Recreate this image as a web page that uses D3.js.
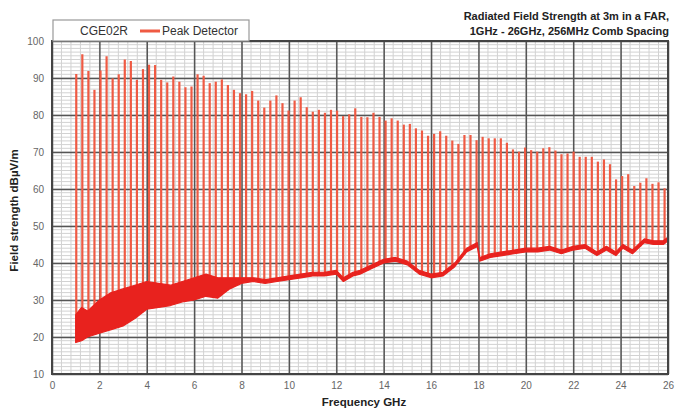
<!DOCTYPE html>
<html>
<head>
<meta charset="utf-8">
<script src="https://cdn.jsdelivr.net/npm/d3@7"></script>
<style>
body { margin: 0; background: #fff; }
svg { display: block; font-family: "Liberation Sans", Arial, sans-serif; }
</style>
</head>
<body>
<script>
// comb lines every 256 MHz, first one at 4 x 256 MHz
const combStart = 1.024
const combStep = 0.256

// peak level of each comb line, dBuV/m
const peakLevels = [
  91.1, 96.4, 91.9, 86.8, 92, 95.9, 89.9, 91, 95, 94.6, 89.5, 92.4, 93.6, 93.5, 89.5, 88.8,
  90.4, 89, 87.5, 87.7, 91, 90.6, 88.6, 89, 89.6, 88.1, 86.8, 85.9, 85.6, 86.5, 83.9,
  82, 83.9, 85.3, 83.2, 81.2, 83.9, 84.8, 82.1, 80.9, 81.4, 80.6, 81.4, 81.2, 79.7, 80.2,
  81.8, 79.5, 79.4, 80.6, 79.5, 78.5, 79.1, 78.5,
  77.4, 77.6, 76.4, 75.8, 74.4, 74.9, 75.6, 74.4, 73.1, 72.2, 74.6, 74.6, 73.2, 74.1,
  73.7, 73.7, 73.7, 72.5, 70.7, 70.1, 71.2, 70.5, 70.1,
  71, 71.3, 70.4, 69.4, 69.6, 70.1, 68.7, 68.7, 68.7, 67.4, 68, 66.7, 62.6, 63.5, 64,
  60.8, 61.7, 62.9, 61.4, 61.8, 60.2
]

// noise floor band between the comb lines (bottom and top edge)
const floorFreqs = [1.0, 1.25, 1.5, 2, 2.5, 3, 3.5, 4, 4.5, 5, 5.5, 6, 6.5, 7, 7.5, 8, 8.5, 9,
  9.5, 10, 10.5, 11, 11.5, 12, 12.3, 12.7, 13, 13.5, 14, 14.5, 15, 15.5, 16, 16.5, 17, 17.5,
  17.95, 18.05, 18.5, 19, 19.5, 20, 20.5, 21, 21.5, 22, 22.5, 23, 23.4, 23.8, 24.1, 24.5, 25,
  25.4, 25.8, 26]
const floorLow = [18.5, 19, 20, 21, 22, 23, 25, 27.5, 28, 28.5, 29.5, 30, 31, 30.5, 33, 34.5,
  35, 34.5, 35, 35.5, 36, 36.5, 36.5, 37, 35, 36.5, 37, 38.5, 40, 40.5, 39.5, 37, 36, 36.5,
  39, 43, 44.5, 40.5, 41.5, 42, 42.5, 43, 43, 43.5, 42.5, 43.5, 44, 42, 43.5, 42, 44, 42.5,
  45.5, 45, 45, 46]
const floorHigh = [26, 28, 27, 30, 32, 33, 34, 35, 34.5, 34, 35, 36, 37, 36, 36, 36,
  36, 35.5, 36, 36.5, 37, 37.5, 37.5, 38, 36, 37.5, 38, 39.5, 41, 41.5, 40.5, 38, 37, 37.5,
  40, 44, 45.5, 41.5, 42.5, 43, 43.5, 44, 44, 44.5, 43.5, 44.5, 45, 43, 44.5, 43, 45, 43.5,
  46.5, 46, 46, 47]

const xTicks = d3.range(0, 27, 2)
const yTicks = d3.range(10, 101, 10)

const width = 682
const height = 410
const plotLeft = 52
const plotRight = 668
const plotTop = 41
const plotBottom = 374

const x = d3.scaleLinear().domain([0, 26]).range([plotLeft, plotRight])
const y = d3.scaleLinear().domain([10, 100]).range([plotBottom, plotTop])

const svg = d3.select('body').append('svg')
  .attr('width', width)
  .attr('height', height)

svg.append('rect').attr('width', width).attr('height', height).attr('fill', '#fff')

// minor grid
svg.append('g')
  .selectAll('line')
  .data(d3.range(0, 26.01, 0.4))
  .enter().append('line')
  .attr('x1', d => x(d)).attr('x2', d => x(d))
  .attr('y1', plotTop).attr('y2', plotBottom)
  .attr('stroke', '#d2d2d2').attr('stroke-width', 1)

svg.append('g')
  .selectAll('line')
  .data(d3.range(10, 100, 1))
  .enter().append('line')
  .attr('x1', plotLeft).attr('x2', plotRight)
  .attr('y1', d => y(d)).attr('y2', d => y(d))
  .attr('stroke', '#d2d2d2').attr('stroke-width', 1)

// major grid + tick labels
const xAxis = svg.append('g')
  .attr('transform', `translate(0,${plotBottom})`)
  .call(d3.axisBottom(x).tickValues(xTicks).tickSize(-(plotBottom - plotTop)).tickPadding(8))
const yAxis = svg.append('g')
  .attr('transform', `translate(${plotLeft},0)`)
  .call(d3.axisLeft(y).tickValues(yTicks).tickSize(-(plotRight - plotLeft)).tickPadding(8))

for (const ax of [xAxis, yAxis]) {
  ax.select('.domain').remove()
  ax.selectAll('line').attr('stroke', '#555').attr('stroke-width', 1.5)
  ax.selectAll('text').attr('fill', '#666').style('font-size', '10px')
}

// comb lines
const floorAt = d3.scaleLinear().domain(floorFreqs).range(floorLow)
svg.append('g')
  .selectAll('line')
  .data(peakLevels)
  .enter().append('line')
  .attr('x1', (d, i) => x(combStart + i * combStep))
  .attr('x2', (d, i) => x(combStart + i * combStep))
  .attr('y1', (d, i) => y(floorAt(combStart + i * combStep)))
  .attr('y2', d => y(d))
  .attr('stroke', '#ef5a43')
  .attr('stroke-width', 2.2)

// noise floor band
const band = d3.area()
  .x((d, i) => x(floorFreqs[i]))
  .y0((d, i) => y(floorLow[i]))
  .y1(d => y(d))
svg.append('path')
  .datum(floorHigh)
  .attr('d', band)
  .attr('fill', '#e8221e')
  .attr('stroke', '#e8221e')
  .attr('stroke-width', 1.2)
  .attr('stroke-linejoin', 'round')

// frame
svg.append('rect')
  .attr('x', plotLeft).attr('y', plotTop)
  .attr('width', plotRight - plotLeft).attr('height', plotBottom - plotTop)
  .attr('fill', 'none').attr('stroke', '#444').attr('stroke-width', 2)

// titles
svg.append('text')
  .attr('x', 669).attr('y', 20)
  .attr('text-anchor', 'end')
  .attr('font-weight', 'bold').attr('font-size', 11).attr('fill', '#222')
  .text('Radiated Field Strength at 3m in a FAR,')
svg.append('text')
  .attr('x', 669).attr('y', 35)
  .attr('text-anchor', 'end')
  .attr('font-weight', 'bold').attr('font-size', 11).attr('fill', '#222')
  .text('1GHz - 26GHz, 256MHz Comb Spacing')

svg.append('text')
  .attr('x', (plotLeft + plotRight) / 2 + 4).attr('y', 406)
  .attr('text-anchor', 'middle')
  .attr('font-weight', 'bold').attr('font-size', 11.5).attr('fill', '#222')
  .text('Frequency GHz')

svg.append('text')
  .attr('transform', `translate(18,${(plotTop + plotBottom) / 2 + 3}) rotate(-90)`)
  .attr('text-anchor', 'middle')
  .attr('font-weight', 'bold').attr('font-size', 11.5).attr('fill', '#222')
  .text('Field strength dBµV/m')

// legend
const legend = svg.append('g')
legend.append('rect')
  .attr('x', 53).attr('y', 20).attr('width', 196).attr('height', 21)
  .attr('fill', '#fff').attr('stroke', '#999').attr('stroke-width', 1.2)
legend.append('text')
  .attr('x', 80).attr('y', 35).attr('font-size', 12).attr('fill', '#333')
  .text('CGE02R')
legend.append('line')
  .attr('x1', 140).attr('x2', 160).attr('y1', 31).attr('y2', 31)
  .attr('stroke', '#ef5a43').attr('stroke-width', 3)
legend.append('text')
  .attr('x', 162).attr('y', 35).attr('font-size', 12).attr('fill', '#333')
  .text('Peak Detector')
</script>
</body>
</html>
